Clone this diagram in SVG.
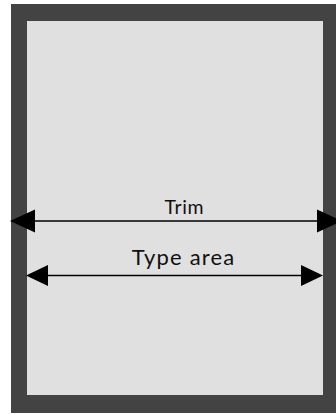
<svg xmlns="http://www.w3.org/2000/svg" width="336" height="414" viewBox="0 0 336 414">
  <style>
    .lbl { font-family: "Lato", "Liberation Sans", sans-serif; fill: #111111; text-anchor: middle; }
    .arr { stroke: #000000; stroke-width: 1.6; fill: none; }
  </style>
  <defs>
    <marker id="headTrim" markerUnits="userSpaceOnUse" markerWidth="25" markerHeight="23" refX="0" refY="11.5" orient="auto-start-reverse" overflow="visible">
      <path d="M0,0 L25,11.5 L0,23 Z" fill="#000000"/>
    </marker>
    <marker id="headType" markerUnits="userSpaceOnUse" markerWidth="22" markerHeight="21" refX="0" refY="10.5" orient="auto-start-reverse" overflow="visible">
      <path d="M0,0 L22,10.5 L0,21 Z" fill="#000000"/>
    </marker>
  </defs>
  <rect width="336" height="414" fill="#ffffff"/>
  <g id="page">
    <rect x="11" y="4" width="330" height="409" fill="#434343"/>
    <rect x="27" y="21" width="296" height="374" fill="#e0e0e0"/>
  </g>
  <g id="connectors">
    <line class="arr" x1="35" y1="221" x2="317" y2="221" marker-start="url(#headTrim)" marker-end="url(#headTrim)"/>
    <line class="arr" x1="48" y1="275.5" x2="301" y2="275.5" marker-start="url(#headType)" marker-end="url(#headType)"/>
  </g>
  <g id="trim">
    <text class="lbl" x="184.3" y="214" font-size="19.5" letter-spacing="0.6">Trim</text>
  </g>
  <g id="type-area">
    <text class="lbl" x="183.6" y="264.5" font-size="22" letter-spacing="1.2">Type area</text>
  </g>
</svg>
